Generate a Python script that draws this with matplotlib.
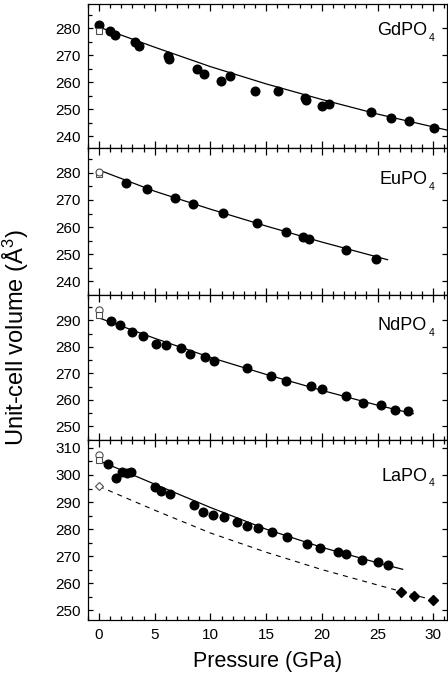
import matplotlib
matplotlib.use("Agg")
import matplotlib.pyplot as plt
from matplotlib.ticker import MultipleLocator

plt.rcParams.update({
    "font.family": ["Liberation Sans", "DejaVu Sans"],
    "mathtext.fontset": "custom",
    "mathtext.rm": "Liberation Sans",
    "mathtext.it": "Liberation Sans:italic",
    "axes.linewidth": 0.9,
})

# GdPO4
gd_p = [0.0, 0.99, 1.45, 3.25, 3.55, 6.2, 6.27, 8.77, 9.46, 10.93, 11.72, 13.98,
        16.1, 18.45, 18.6, 20.0, 20.65, 24.4, 26.25, 27.85, 30.1]
gd_v = [281.2, 279.1, 277.6, 275.0, 273.5, 269.6, 268.5, 264.75, 263.1, 260.4, 262.25, 256.9,
        256.9, 254.0, 253.6, 251.35, 252.1, 248.8, 246.8, 245.6, 243.2]
gd_open = (0.0, 279.2)
gd_fit_p = [0, 5, 10, 15, 20, 25, 31.5]
gd_fit_v = [280.5, 273.0, 265.8, 259.4, 253.6, 248.2, 242.0]

# EuPO4
eu_p = [2.39, 4.28, 6.82, 8.44, 11.10, 14.18, 16.75, 18.34, 18.88, 22.17, 24.86]
eu_v = [276.4, 273.95, 270.6, 268.6, 265.3, 261.4, 258.1, 256.3, 255.7, 251.5, 248.3]
eu_open_circle = (0.0, 280.3)
eu_open_square = (0.0, 279.5)
eu_fit_p = [0, 5, 10, 15, 20, 25.9]
eu_fit_v = [281.0, 273.2, 266.6, 260.4, 254.5, 248.0]

# NdPO4
nd_p = [1.08, 1.88, 2.99, 3.98, 5.09, 6.01, 7.36, 8.17, 9.48, 10.29, 13.28, 15.44,
        16.75, 19.05, 20.01, 22.17, 23.72, 25.34, 26.56, 27.73]
nd_v = [289.75, 288.1, 285.6, 284.25, 281.0, 280.75, 279.4, 277.25, 276.25, 274.6, 271.9, 268.9,
        267.1, 265.25, 264.25, 261.4, 258.9, 258.1, 256.1, 255.9]
nd_open_circle = (0.0, 293.75)
nd_open_square = (0.0, 291.9)
nd_fit_p = [0, 5, 10, 15, 20, 25, 28.2]
nd_fit_v = [290.9, 283.2, 276.0, 269.6, 263.6, 258.0, 254.8]

# LaPO4
la_p = [0.84, 1.51, 2.05, 2.5, 2.86, 5.05, 5.58, 6.38, 8.55, 9.37, 10.24, 11.23,
        12.43, 13.32, 14.23, 15.5, 16.87, 18.65, 19.87, 21.44, 22.2, 23.62, 25.0, 25.9]
la_v = [304.1, 299.0, 301.2, 300.7, 301.2, 295.4, 294.0, 293.1, 289.0, 286.3, 285.3, 284.4,
        282.7, 281.2, 280.25, 278.8, 277.0, 274.7, 273.2, 271.7, 270.7, 268.8, 267.9, 266.6]
la_open_circle = (0.0, 307.2)
la_open_square = (0.0, 305.6)
la_open_diamond = (0.0, 296.1)
la_dia_p = [27.1, 28.3, 30.0]
la_dia_v = [256.8, 255.2, 253.8]
la_fit_p = [0, 5, 10, 15, 20, 25, 27.25]
la_fit_v = [305.3, 296.6, 288.0, 280.0, 273.3, 267.6, 265.2]
la_dash_p = [0, 5, 10, 15, 20, 25, 30.2]
la_dash_v = [295.8, 287.0, 278.6, 271.5, 265.1, 259.4, 253.6]

names = ["GdPO", "EuPO", "NdPO", "LaPO"]
ylims = [(235.5, 289), (235.2, 289), (245, 299.7), (246.5, 313)]
yticks = [(240, 280), (240, 280), (250, 290), (250, 310)]
label_y = [277.5, 275.8, 286.2, 297.9]

fig, axes = plt.subplots(4, 1, figsize=(4.48, 6.81), dpi=100, sharex=True,
                         gridspec_kw=dict(height_ratios=[144, 146, 145, 180], hspace=0))
fig.subplots_adjust(left=0.196, right=0.997, top=0.994, bottom=0.0896)

circ = dict(marker="o", ms=6.2, color="black", ls="none", zorder=3)
open_kw = dict(ls="none", mfc="white", mec="0.3", mew=0.8, zorder=4)
fit_kw = dict(color="black", lw=0.9, zorder=2)

ax = axes[0]
ax.plot(gd_fit_p, gd_fit_v, **fit_kw)
ax.plot(gd_p, gd_v, **circ)
ax.plot(*gd_open, marker="s", ms=4.8, **open_kw)

ax = axes[1]
ax.plot(eu_fit_p, eu_fit_v, **fit_kw)
ax.plot(eu_p, eu_v, **circ)
ax.plot(*eu_open_square, marker="s", ms=4.5, **open_kw)
ax.plot(*eu_open_circle, marker="o", ms=5.0, **open_kw)

ax = axes[2]
ax.plot(nd_fit_p, nd_fit_v, **fit_kw)
ax.plot(nd_p, nd_v, **circ)
ax.plot(*nd_open_circle, marker="o", ms=5.2, **open_kw)
ax.plot(*nd_open_square, marker="s", ms=4.5, **open_kw)

ax = axes[3]
ax.plot(la_fit_p, la_fit_v, **fit_kw)
ax.plot(la_dash_p, la_dash_v, color="black", lw=0.8, dashes=(4.5, 4.5), zorder=2)
ax.plot(la_p, la_v, **circ)
ax.plot(la_dia_p, la_dia_v, marker="D", ms=5.0, color="black", ls="none", zorder=3)
ax.plot(*la_open_circle, marker="o", ms=5.2, **open_kw)
ax.plot(*la_open_square, marker="s", ms=4.5, **open_kw)
ax.plot(*la_open_diamond, marker="D", ms=3.8, **open_kw)

for i, ax in enumerate(axes):
    ax.set_ylim(*ylims[i])
    ax.set_yticks(range(yticks[i][0], yticks[i][1] + 1, 10))
    ax.yaxis.set_minor_locator(MultipleLocator(5))
    ax.set_xlim(-1, 31.2)
    ax.xaxis.set_major_locator(MultipleLocator(5))
    ax.xaxis.set_minor_locator(MultipleLocator(1))
    ax.tick_params(axis="x", which="both", direction="in", top=True, bottom=True, width=0.9)
    ax.tick_params(axis="x", which="major", length=5)
    ax.tick_params(axis="x", which="minor", length=3)
    ax.tick_params(axis="y", which="both", direction="in", left=True, width=0.9, labelsize=11, pad=5)
    ax.tick_params(axis="y", which="major", right=True, length=3.5)
    ax.tick_params(axis="y", which="minor", right=False, length=3)
    ax.text(29.45, label_y[i], names[i], ha="right", va="baseline", fontsize=13)
    ax.annotate("4", xy=(29.45, label_y[i]), xytext=(1.5, -4), textcoords="offset points",
                ha="left", va="baseline", fontsize=7.5)

axes[-1].tick_params(axis="x", labelsize=11, pad=6)
axes[-1].set_xlabel("Pressure (GPa)", fontsize=15.5, labelpad=6)
fig.text(0.036, 0.504, "Unit-cell volume (Å$^3$)", rotation=90, ha="center", va="center", fontsize=17)

fig.savefig("out.png", dpi=100)
